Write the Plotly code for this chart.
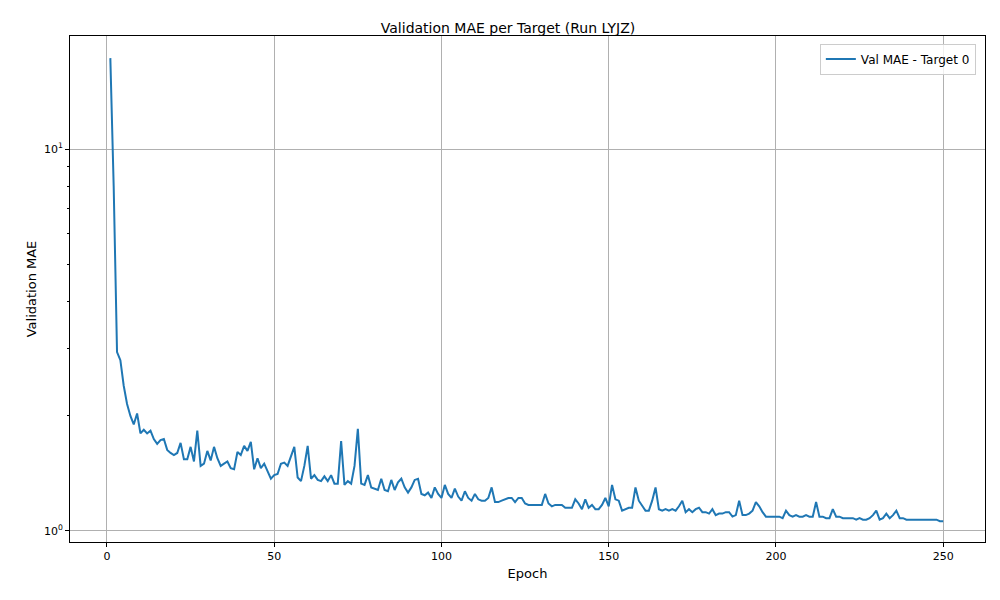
import plotly.graph_objects as go

epochs = list(range(1, 251))
val_mae = [
    17.3, 8.0, 2.94, 2.8, 2.4, 2.15, 2.0, 1.9, 2.03, 1.8,
    1.84, 1.8, 1.83, 1.74, 1.69, 1.73, 1.74, 1.63, 1.6, 1.58,
    1.6, 1.7, 1.54, 1.54, 1.66, 1.52, 1.83, 1.48, 1.5, 1.62,
    1.53, 1.66, 1.55, 1.48, 1.5, 1.52, 1.46, 1.45, 1.61, 1.58,
    1.67, 1.62, 1.71, 1.45, 1.55, 1.46, 1.5, 1.43, 1.37, 1.4,
    1.41, 1.5, 1.51, 1.48, 1.56, 1.66, 1.38, 1.35, 1.48, 1.67,
    1.37, 1.4, 1.36, 1.35, 1.39, 1.35, 1.4, 1.33, 1.33, 1.72,
    1.32, 1.35, 1.33, 1.48, 1.85, 1.33, 1.32, 1.4, 1.3, 1.29,
    1.28, 1.37, 1.28, 1.27, 1.36, 1.28, 1.34, 1.37, 1.3, 1.26,
    1.3, 1.36, 1.37, 1.25, 1.24, 1.26, 1.22, 1.3, 1.25, 1.22,
    1.32, 1.25, 1.22, 1.29, 1.23, 1.2, 1.27, 1.22, 1.2, 1.25,
    1.21, 1.2, 1.2, 1.22, 1.3, 1.19, 1.19, 1.2, 1.21, 1.22,
    1.22, 1.19, 1.22, 1.22, 1.18, 1.17, 1.17, 1.17, 1.17, 1.17,
    1.25, 1.18, 1.16, 1.17, 1.17, 1.17, 1.15, 1.15, 1.15, 1.21,
    1.18, 1.14, 1.21, 1.15, 1.17, 1.14, 1.14, 1.17, 1.22, 1.16,
    1.32, 1.21, 1.2, 1.13, 1.14, 1.15, 1.15, 1.3, 1.2, 1.16,
    1.13, 1.13, 1.2, 1.3, 1.14, 1.13, 1.14, 1.13, 1.14, 1.13,
    1.16, 1.2, 1.12, 1.14, 1.12, 1.14, 1.15, 1.12, 1.12, 1.11,
    1.14, 1.1, 1.11, 1.11, 1.12, 1.12, 1.09, 1.1, 1.2, 1.1,
    1.1, 1.11, 1.13, 1.19, 1.16, 1.12, 1.09, 1.09, 1.09, 1.09,
    1.09, 1.08, 1.13, 1.1, 1.09, 1.1, 1.09, 1.09, 1.1, 1.09,
    1.09, 1.19, 1.09, 1.09, 1.08, 1.08, 1.14, 1.09, 1.09, 1.08,
    1.08, 1.08, 1.08, 1.07, 1.08, 1.07, 1.07, 1.08, 1.1, 1.13,
    1.07, 1.08, 1.11, 1.08, 1.1, 1.13, 1.08, 1.08, 1.07, 1.07,
    1.07, 1.07, 1.07, 1.07, 1.07, 1.07, 1.07, 1.07, 1.06, 1.06,
]

fig = go.Figure()
fig.add_trace(go.Scatter(x=epochs, y=val_mae, mode='lines', name='Val MAE - Target 0',
                         line=dict(color='#1f77b4', width=2)))

axis_style = dict(showline=True, mirror=True, linecolor='black', linewidth=1,
                  showgrid=True, gridcolor='#b0b0b0', gridwidth=1,
                  ticks='outside', ticklen=4, tickcolor='black', zeroline=False)

fig.update_layout(
    title=dict(text='Validation MAE per Target (Run LYJZ)', x=0.5, y=0.975, xanchor='center',
               font=dict(size=14, color='black')),
    font=dict(family='DejaVu Sans', size=11, color='black'),
    width=1000, height=600,
    margin=dict(l=62, r=23, t=28, b=66),
    plot_bgcolor='white', paper_bgcolor='white',
    legend=dict(x=0.99, y=0.985, xanchor='right', yanchor='top', bordercolor='#cccccc',
                borderwidth=1, bgcolor='rgba(255,255,255,0.8)', font=dict(size=12)),
    showlegend=True,
)
fig.update_xaxes(title_text='Epoch', title_standoff=6, range=[-11.06, 262.5],
                 tickvals=[0, 50, 100, 150, 200, 250], **axis_style)
fig.update_yaxes(title_text='Validation MAE', title_standoff=4, type='log', range=[-0.029, 1.296],
                 tickvals=[1, 10], ticktext=['10<sup>0</sup>', '10<sup>1</sup>'],
                 minor=dict(tickvals=[2, 3, 4, 5, 6, 7, 8, 9, 20], ticks='outside', ticklen=2,
                            tickcolor='black', showgrid=False),
                 **axis_style)

fig.write_html("out.html")
